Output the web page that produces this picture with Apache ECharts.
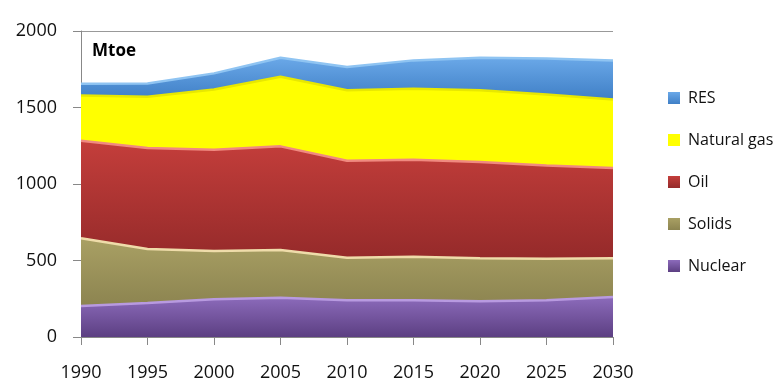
<!DOCTYPE html>
<html><head><meta charset="utf-8">
<script src="https://cdn.jsdelivr.net/npm/echarts@6/dist/echarts.min.js"></script>
<style>html,body{margin:0;padding:0;background:#fff}#c{width:781px;height:392px}</style>
</head><body><div id="c"></div>
<script>
var years = ['1990','1995','2000','2005','2010','2015','2020','2025','2030'];
var nuclear = [203, 223, 247, 256, 241, 241, 234, 241, 262];
var solids  = [442, 352, 315, 312, 277, 284, 280, 270, 252];
var oil     = [638, 660, 662, 678, 634, 634, 629, 610, 590];
var gas     = [295, 335, 394, 455, 461, 463, 470, 464, 448];
var res     = [77, 87, 105, 124, 151, 186, 212, 236, 256];
var legendOrder = ['RES','Natural gas','Oil','Solids','Nuclear'];

function grad(a,b){return new echarts.graphic.LinearGradient(0,0,0,1,[{offset:0,color:a},{offset:1,color:b}]);}
function s(name,data,c1,c2,line){
  return {name:name,type:'line',stack:'t',data:data,symbol:'none',smooth:false,
    lineStyle:{color:line,width:2.5},
    itemStyle:{color:grad(c1,c2)},
    areaStyle:{color:grad(c1,c2),opacity:1}};
}
var font = '"Open Sans", sans-serif';
var chart = echarts.init(document.getElementById('c'));
chart.setOption({
  animation:false,
  grid:{left:81,right:168,top:31,bottom:55},
  graphic:[{type:'text',left:92,top:43,style:{text:'Mtoe',fontFamily:font,fontWeight:'bold',fontSize:17,fill:'#000'}}],
  legend:{orient:'vertical',left:663,top:85,itemWidth:12,itemHeight:12,itemGap:26,icon:'rect',
    data:legendOrder,textStyle:{fontFamily:font,fontSize:16,color:'#111',padding:[0,0,0,3]}},
  xAxis:{type:'category',data:years,boundaryGap:false,
    axisLine:{lineStyle:{color:'#888'}},axisTick:{inside:false,length:8,lineStyle:{color:'#888'}},
    axisLabel:{margin:27,fontFamily:font,fontSize:18,color:'#111'}},
  yAxis:{type:'value',min:0,max:2000,interval:500,
    axisLine:{show:true,lineStyle:{color:'#888'}},axisTick:{show:true,length:8,lineStyle:{color:'#888'}},
    splitLine:{lineStyle:{color:'#999'}},
    axisLabel:{margin:24,fontFamily:font,fontSize:18,color:'#111',formatter:function(v){return String(v);}}},
  series:[
    s('Nuclear',nuclear,'#8c6bbb','#5c3f82','#b89ae0'),
    s('Solids',solids,'#a9a064','#8c8450','#efdcaa'),
    s('Oil',oil,'#c43e3b','#952a2a','#f08a80'),
    s('Natural gas',gas,'#ffff00','#ffff00','#e8e800'),
    s('RES',res,'#6aa8e8','#3f7fc6','#8fc4f2')
  ]
});
</script></body></html>
